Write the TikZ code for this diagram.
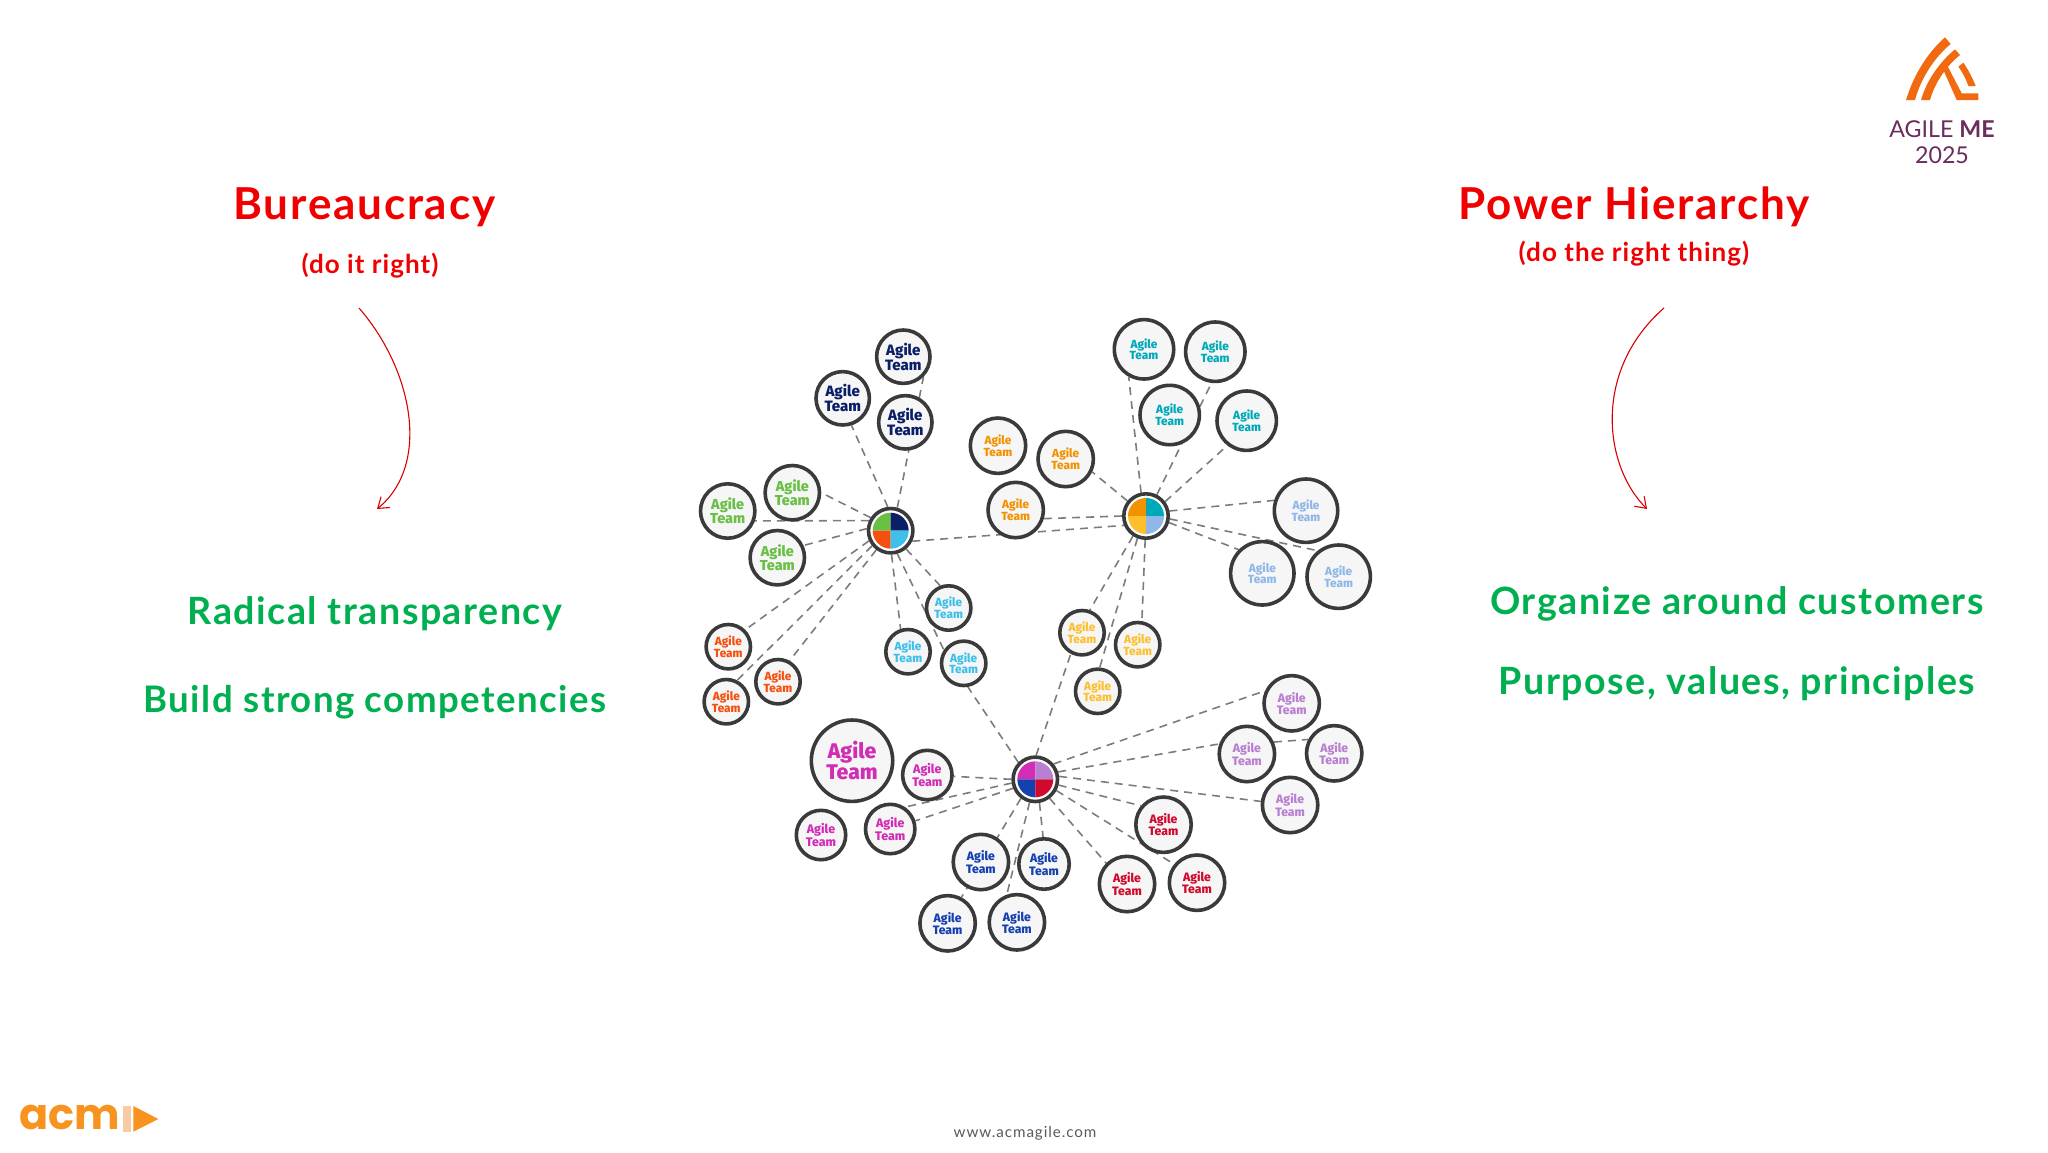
\documentclass[tikz,border=0pt]{standalone}
\usepackage{fontspec}
\usetikzlibrary{backgrounds,arrows.meta}
\setmainfont{Lato}
\newfontfamily\agilefont[BoldFont={Fira Sans ExtraBold}]{Fira Sans}
\newfontfamily\headfont[LetterSpace=4]{Lato}
\newfontfamily\poppinsf{Poppins}
\definecolor{ring}{HTML}{3A3A3A}
\definecolor{disc}{HTML}{F6F6F6}
\definecolor{dashc}{HTML}{7C7C7C}
\definecolor{navyc}{HTML}{0B1F66}
\definecolor{greenc}{HTML}{6ABF45}
\definecolor{flamec}{HTML}{F5500F}
\definecolor{cyanc}{HTML}{3FC0EA}
\definecolor{orangec}{HTML}{F39200}
\definecolor{tealc}{HTML}{00A9B8}
\definecolor{skyc}{HTML}{8FB8E8}
\definecolor{yellowc}{HTML}{FDBF2D}
\definecolor{magc}{HTML}{D22DB5}
\definecolor{purpc}{HTML}{B97FD0}
\definecolor{bluec}{HTML}{1540B0}
\definecolor{crimc}{HTML}{CF0A2C}
\definecolor{headred}{HTML}{F00000}
\definecolor{headgreen}{HTML}{00B050}
\definecolor{logoorange}{HTML}{F26A10}
\definecolor{logopurple}{HTML}{6B2C5E}
\definecolor{acmorange}{HTML}{F7931E}
\definecolor{acmlight}{HTML}{F8CBA2}
\tikzset{
  team/.style n args={3}{circle,draw=ring,fill=disc,line width=1.8pt,inner sep=0pt,
    minimum size={(#1-1.8)*1pt},text=#2,align=center,
    font=\agilefont\bfseries\fontsize{#3}{#3}\selectfont},
  hub/.style={circle,draw=ring,fill=white,line width=1.8pt,inner sep=0pt,minimum size=22.2pt},
  link/.style={draw=dashc,line width=0.8pt,dash pattern=on 4pt off 3pt},
  curvearrow/.style={draw=red!85!black,line width=0.55pt,-{Straight Barb[length=5pt,width=7pt]}},
  headA/.style={text=headred,font=\headfont\bfseries\fontsize{22}{24}\selectfont},
  headB/.style={text=headred,font=\headfont\bfseries\fontsize{13}{15}\selectfont},
  pointA/.style={text=headgreen,font=\headfont\bfseries\fontsize{18.8}{22}\selectfont},
  pointB/.style={text=headgreen,font=\headfont\bfseries\fontsize{18.3}{22}\selectfont}
}
\newcommand{\hubpie}[5]{%
  \begin{scope}[shift={(#1.center)},x=1pt,y=1pt]
    \fill[#2] (0,0) -- (-9,0) arc (180:90:9) -- cycle;
    \fill[#3] (0,0) -- (0,9) arc (90:0:9) -- cycle;
    \fill[#4] (0,0) -- (0,-9) arc (270:180:9) -- cycle;
    \fill[#5] (0,0) -- (9,0) arc (0:-90:9) -- cycle;
  \end{scope}}
\begin{document}
\begin{tikzpicture}[x=0.5pt,y=-0.5pt]
\useasboundingbox (0,0) rectangle (2048,1152);
% hubs
\node[hub] (hubA) at (890.7,530.7) {};
\node[hub] (hubB) at (1146,516) {};
\node[hub] (hubC) at (1035.3,779.3) {};
\hubpie{hubA}{greenc}{navyc}{flamec}{cyanc}
\hubpie{hubB}{orangec}{tealc}{yellowc}{skyc}
\hubpie{hubC}{magc}{purpc}{bluec}{crimc}
% navy
\node[team={28.5}{navyc}{7.5}] (n1) at (903.3,356.7) {Agile\\Team};
\node[team={28.5}{navyc}{7.5}] (n2) at (842.7,398.3) {Agile\\Team};
\node[team={28.5}{navyc}{7.5}] (n3) at (905.3,422.3) {Agile\\Team};
% green
\node[team={29}{greenc}{7.2}] (g1) at (792.3,492.7) {Agile\\Team};
\node[team={29}{greenc}{7.2}] (g2) at (727.7,511) {Agile\\Team};
\node[team={29}{greenc}{7.2}] (g3) at (777.3,557.7) {Agile\\Team};
% flame
\node[team={24}{flamec}{5.9}] (f1) at (728.3,646.7) {Agile\\Team};
\node[team={24}{flamec}{5.9}] (f2) at (778,681.7) {Agile\\Team};
\node[team={24}{flamec}{5.9}] (f3) at (726.3,701.7) {Agile\\Team};
% cyan
\node[team={24}{cyanc}{5.9}] (c1) at (948.7,608) {Agile\\Team};
\node[team={24}{cyanc}{5.9}] (c2) at (908,651.7) {Agile\\Team};
\node[team={24}{cyanc}{5.9}] (c3) at (963.7,663.3) {Agile\\Team};
% teal
\node[team={31.5}{tealc}{5.9}] (t1) at (1144,349.3) {Agile\\Team};
\node[team={31.5}{tealc}{5.9}] (t2) at (1215.3,351.7) {Agile\\Team};
\node[team={31.5}{tealc}{5.9}] (t3) at (1169.7,415) {Agile\\Team};
\node[team={31.5}{tealc}{5.9}] (t4) at (1246.7,420.7) {Agile\\Team};
% orange
\node[team={29.5}{orangec}{5.9}] (o1) at (998,445.7) {Agile\\Team};
\node[team={29.5}{orangec}{5.9}] (o2) at (1065.7,459) {Agile\\Team};
\node[team={29.5}{orangec}{5.9}] (o3) at (1015.7,510) {Agile\\Team};
% sky
\node[team={33.5}{skyc}{5.9}] (s1) at (1306,510.7) {Agile\\Team};
\node[team={33.5}{skyc}{5.9}] (s2) at (1262.3,573.3) {Agile\\Team};
\node[team={33.5}{skyc}{5.9}] (s3) at (1338.7,576.7) {Agile\\Team};
% yellow
\node[team={24}{yellowc}{5.9}] (y1) at (1082,632.7) {Agile\\Team};
\node[team={24}{yellowc}{5.9}] (y2) at (1137.7,644.7) {Agile\\Team};
\node[team={24}{yellowc}{5.9}] (y3) at (1097.7,691.3) {Agile\\Team};
% magenta
\node[team={42.5}{magc}{10.6}] (m0) at (852,760.7) {Agile\\Team};
\node[team={26.5}{magc}{6.2}] (m1) at (927.3,775) {Agile\\Team};
\node[team={26.5}{magc}{6.2}] (m2) at (890.2,829) {Agile\\Team};
\node[team={26.5}{magc}{6.2}] (m3) at (821,835) {Agile\\Team};
% blue
\node[team={29.5}{bluec}{6.1}] (b1) at (980.9,862) {Agile\\Team};
\node[team={27}{bluec}{6.1}] (b2) at (1044,864) {Agile\\Team};
\node[team={29.5}{bluec}{6.1}] (b3) at (947.6,923.3) {Agile\\Team};
\node[team={29.5}{bluec}{6.1}] (b4) at (1016.9,922.3) {Agile\\Team};
% crimson
\node[team={29.5}{crimc}{6.1}] (r1) at (1163.5,824.7) {Agile\\Team};
\node[team={29.5}{crimc}{6.1}] (r2) at (1127,884) {Agile\\Team};
\node[team={29.5}{crimc}{6.1}] (r3) at (1197,882.7) {Agile\\Team};
% purple
\node[team={29.5}{purpc}{6.1}] (p1) at (1291.7,703.3) {Agile\\Team};
\node[team={29.5}{purpc}{6.1}] (p2) at (1246.9,754) {Agile\\Team};
\node[team={29.5}{purpc}{6.1}] (p3) at (1334.2,753.3) {Agile\\Team};
\node[team={29.5}{purpc}{6.1}] (p4) at (1290.1,805) {Agile\\Team};
% connectors, behind the discs
\begin{scope}[on background layer]
\draw[link] (hubA.74) -- (n1.-45);
\draw[link] (hubA.97) -- (n2.-72);
\draw[link] (hubA.147) -- (g1.0);
\draw[link] (hubA.155) -- (g2.-20);
\draw[link] (hubA.175) -- (g3.25);
\draw[link] (hubA.205) -- (f1.45);
\draw[link] (hubA.219) -- (f3.63);
\draw[link] (hubA.233) -- (f2.61);
\draw[link] (hubA.-50) -- (c1.111);
\draw[link] (hubA.-88) -- (c2.108);
\draw[link] (hubA.-74) -- (c3.146);
\draw[link] (hubA.-26) -- (hubB.203);
\draw[link] (hubC.135) -- (c3.-80);
\draw[link] (hubB.141) -- (o2.-26);
\draw[link] (hubB.180) -- (o3.-17);
\draw[link] (hubB.102) -- (t1.-119);
\draw[link] (hubB.63) -- (t2.-97);
\draw[link] (hubB.37) -- (t4.-128);
\draw[link] (hubB.12) -- (s1.162);
\draw[link] (hubB.-16) -- (s2.135);
\draw[link] (hubB.-7) -- (s3.129);
\draw[link] (hubB.237) -- (y1.71);
\draw[link] (hubB.249) -- (y3.85);
\draw[link] (hubB.-92) -- (y2.80);
\draw[link] (hubC.88) -- (y1.-118);
\draw[link] (hubC.40) -- (p1.155);
\draw[link] (hubC.18) -- (p2.160);
\draw[link] (p2.24) -- (p3.152);
\draw[link] (hubC.7) -- (p4.173);
\draw[link] (hubC.-14) -- (r1.140);
\draw[link] (hubC.-28) -- (r3.141);
\draw[link] (hubC.-53) -- (r2.135);
\draw[link] (hubC.-80) -- (b2.92);
\draw[link] (hubC.-104) -- (b4.110);
\draw[link] (hubC.233) -- (b3.62);
\draw[link] (hubC.180) -- (m1.-3);
\draw[link] (hubC.189) -- (m2.56);
\draw[link] (hubC.202) -- (m2.18);
\end{scope}
% headings
\node[headA] (tBur) at (364.4,207) {Bureaucracy};
\node[headB] (tBurS) at (370,266) {(do it right)};
\node[headA] (tPow) at (1634,207) {Power Hierarchy};
\node[headB] (tPowS) at (1634,254) {(do the right thing)};
\node[pointA] (tRad) at (375,614) {Radical transparency};
\node[pointB] (tBuild) at (375,702) {Build strong competencies};
\node[pointA] (tOrg) at (1737,604) {Organize around customers};
\node[pointA] (tPur) at (1737,684) {Purpose, values, principles};
% curved arrows
\coordinate (aL1) at (359,308); \coordinate (aL2) at (377,509);
\coordinate (aR1) at (1664,308); \coordinate (aR2) at (1647,509);
\draw[curvearrow] (aL1) .. controls (413,370) and (431,465) .. (aL2);
\draw[curvearrow] (aR1) .. controls (1593,370) and (1603,465) .. (aR2);
% AGILE ME logo
\begin{scope}[shift={(1860,20)},x=0.1667pt,y=-0.1667pt]
  \fill[logoorange] (138,240) .. controls (160,165) and (205,95) .. (255,52) -- (272,72) .. controls (225,110) and (182,175) .. (165,240) -- cycle;
  \fill[logoorange] (183,240) .. controls (200,180) and (240,125) .. (285,88) -- (300,105) .. controls (262,135) and (225,185) .. (210,240) -- cycle;
  \fill[logoorange] (250,150) -- (262,137) -- (305,220) -- (355,220) -- (355,240) -- (290,240) -- cycle;
  \fill[logoorange] (295,140) -- (310,128) .. controls (325,150) and (338,175) .. (347,198) -- (325,198) .. controls (318,178) and (308,158) .. (295,140) -- cycle;
\end{scope}
\node[text=logopurple,font=\fontsize{11.6}{12}\selectfont] (tAgile) at (1942,129.5) {AGILE \textbf{ME}};
\node[text=logopurple,font=\fontsize{11.6}{12}\selectfont] (tYear) at (1942,155.5) {2025};
% acm logo
\node[text=acmorange,font=\poppinsf\bfseries\fontsize{21.5}{24}\selectfont,anchor=center] (tAcm) at (70,1117) {acm};
\begin{scope}[shift={(0,1090)},x=0.1667pt,y=-0.1667pt]
  \fill[acmlight] (368,48) -- (394,48) -- (394,125) -- (368,125) -- cycle;
  \fill[acmorange] (400,48) -- (475,87) -- (400,125) -- cycle;
\end{scope}
\node[text=black!65,font=\fontsize{7.6}{9}\selectfont\addfontfeatures{LetterSpace=6}] (tWeb) at (1025,1133) {www.acmagile.com};
\end{tikzpicture}
\end{document}
